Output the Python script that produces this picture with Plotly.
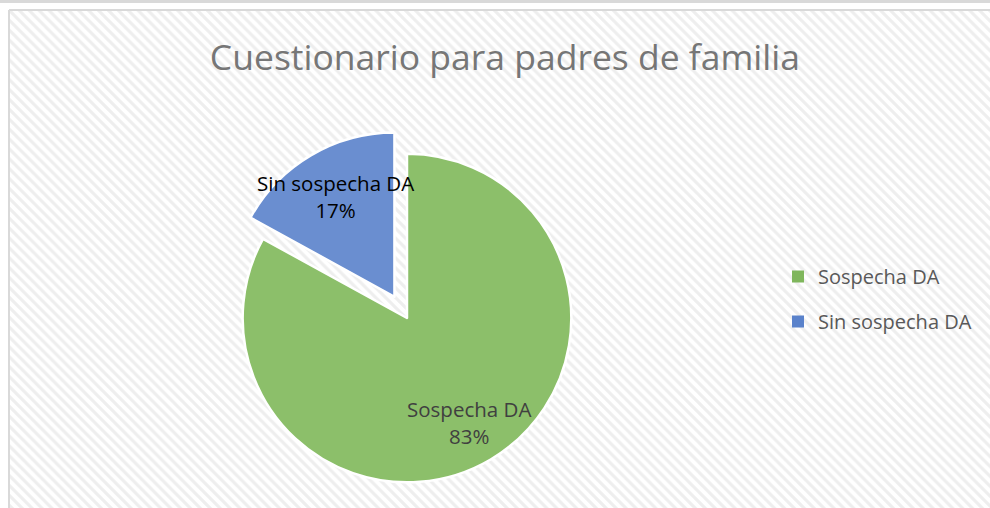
import math
import plotly.graph_objects as go

# ---- data ----
categories = ["Sospecha DA", "Sin sospecha DA"]
values = [83, 17]
title_text = "Cuestionario para padres de familia"

# ---- style ----
W, H = 990, 508
slice_colors = ["#8cbf6a", "#6a8ed0"]
legend_colors = ["#7fb65c", "#5a82cb"]
label_colors = ["#404040", "#000000"]
pulls = [0, 0.15]
dom_x = [0.2202, 0.6020]
dom_y = [0.002, 0.746]
label_k = [0.74, 0.71]

fig = go.Figure()

# hatched chart-area background
fig.add_trace(go.Scatter(
    x=[0, 1, 1, 0, 0], y=[0, 0, 1, 1, 0], mode="lines", fill="toself",
    line=dict(color="rgba(0,0,0,0)", width=0),
    fillcolor="white",
    fillpattern=dict(shape="\\", size=7, solidity=0.45, fgcolor="#dedede", bgcolor="white"),
    showlegend=False, hoverinfo="skip"))

fig.add_trace(go.Pie(
    labels=categories, values=values, sort=False, direction="clockwise", rotation=0,
    pull=pulls, textinfo="none", hoverinfo="label+percent",
    marker=dict(colors=slice_colors, line=dict(color="white", width=2.5)),
    domain=dict(x=dom_x, y=dom_y), showlegend=False))

# legend entries
for i, (c, col) in enumerate(zip(categories, legend_colors)):
    fig.add_trace(go.Scatter(
        x=[None], y=[None], mode="markers", name=c, legendgroup=f"g{i}",
        marker=dict(symbol="square", size=9, color=col)))

# data labels, positioned from data (mid-angle of each slice)
total = sum(values)
maxpull = max(pulls)
r_px = min((dom_x[1] - dom_x[0]) * W, (dom_y[1] - dom_y[0]) * H) / (2 + 2 * maxpull)
cx = (dom_x[0] + dom_x[1]) / 2
cy = (dom_y[0] + dom_y[1]) / 2
cum = 0
for i, (c, v) in enumerate(zip(categories, values)):
    mid = (cum + v / 2) / total
    cum += v
    th = 2 * math.pi * mid
    d = r_px * (label_k[i] + pulls[i])
    ax = cx + math.sin(th) * d / W
    ay = cy + math.cos(th) * d / H
    pct = round(100 * v / total)
    fig.add_annotation(
        x=ax, y=ay, xref="paper", yref="paper", showarrow=False,
        xanchor="center", yanchor="middle",
        text=f"{c}<br>{pct}%", align="center",
        font=dict(family="Open Sans", size=20.5, color=label_colors[i]))

x0b = 9 / W
y1b = 1 - 10 / H
fig.update_layout(
    width=W, height=H,
    margin=dict(l=0, r=0, t=0, b=0),
    paper_bgcolor="white", plot_bgcolor="rgba(0,0,0,0)",
    xaxis=dict(domain=[x0b, 1], range=[0, 1], visible=False, fixedrange=True),
    yaxis=dict(domain=[0, y1b], range=[0, 1], visible=False, fixedrange=True),
    title=dict(text=title_text, x=0.51, xanchor="center", y=1 - 58 / H, yanchor="middle",
               font=dict(family="Open Sans", size=35.5, color="#767676")),
    legend=dict(x=778 / W, y=1 - 257 / H, xanchor="left", yanchor="top",
                font=dict(family="Open Sans", size=20, color="#595959"),
                tracegroupgap=16, bgcolor="rgba(0,0,0,0)", itemsizing="constant"),
    shapes=[
        dict(type="line", xref="paper", yref="paper", x0=0, x1=1, y0=1 - 1.5 / H, y1=1 - 1.5 / H,
             line=dict(color="#d9d9d9", width=3)),
        dict(type="line", xref="paper", yref="paper", x0=x0b, x1=1, y0=y1b, y1=y1b,
             line=dict(color="#d9d9d9", width=2)),
        dict(type="line", xref="paper", yref="paper", x0=x0b, x1=x0b, y0=0, y1=y1b,
             line=dict(color="#d9d9d9", width=2)),
    ],
)

fig.write_html("out.html", config={"displayModeBar": False},
               post_script="document.body.style.margin='0';")
